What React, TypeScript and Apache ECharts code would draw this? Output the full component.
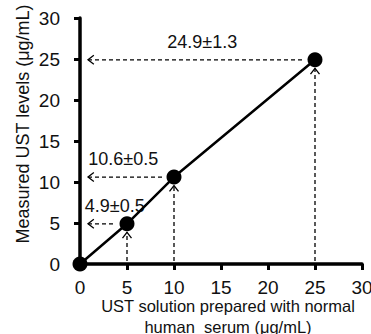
import React, { useEffect, useRef } from "react";
import * as echarts from "echarts";

// ---- data ----
const prepared: number[] = [0, 5, 10, 25];
const measured: number[] = [0, 4.9, 10.6, 24.9];
const pointLabels: string[] = ["", "4.9±0.5", "10.6±0.5", "24.9±1.3"];
const xTicks: number[] = [0, 5, 10, 15, 20, 25, 30];
const yTicks: number[] = [0, 5, 10, 15, 20, 25, 30];

// ---- layout (label centres in x data units) ----
const labelCenterX: number[] = [0, 3.7, 4.6, 13.0];
const FONT = "Liberation Sans, Arial, sans-serif";

export default function App() {
  const ref = useRef<HTMLDivElement>(null);
  useEffect(() => {
    if (!ref.current) return;
    const chart = echarts.init(ref.current, undefined, { renderer: "svg" });
    const pts = prepared.map((x, i) => [x, measured[i]]);
    const arrowData = prepared
      .map((x, i) => [x, measured[i], i])
      .filter((d) => d[0] !== 0);

    chart.setOption({
      animation: false,
      grid: { left: 80, right: 9, top: 18, bottom: 70, outerBoundsMode: "none", containLabel: false },
      xAxis: {
        type: "value",
        min: xTicks[0],
        max: xTicks[xTicks.length - 1],
        interval: 5,
        splitLine: { show: false },
        axisLine: { show: true, lineStyle: { color: "#000", width: 3.5 } },
        axisTick: { show: true, length: 6, lineStyle: { color: "#000", width: 3 } },
        axisLabel: { color: "#111", fontSize: 19, lineHeight: 16, fontFamily: FONT, margin: 15 },
        name: "UST solution prepared with normal\nhuman  serum (μg/mL)",
        nameLocation: "middle",
        nameGap: 31,
        nameMoveOverlap: false,
        nameTextStyle: {
          color: "#111",
          fontSize: 16.5,
          fontFamily: FONT,
          lineHeight: 21,
          verticalAlign: "top",
          padding: [0, 0, 0, 14],
        },
      },
      yAxis: {
        type: "value",
        min: yTicks[0],
        max: yTicks[yTicks.length - 1],
        interval: 5,
        splitLine: { show: false },
        axisLine: { show: true, lineStyle: { color: "#000", width: 3.5 } },
        axisTick: { show: true, length: 6, lineStyle: { color: "#000", width: 3 } },
        axisLabel: { color: "#111", fontSize: 19, fontFamily: FONT, margin: 20 },
        name: "Measured UST levels (μg/mL)",
        nameLocation: "middle",
        nameGap: 48,
        nameMoveOverlap: false,
        nameTextStyle: { color: "#111", fontSize: 18, fontFamily: FONT, padding: [0, 0, 0, 34] },
      },
      series: [
        {
          type: "line",
          data: pts,
          symbol: "circle",
          symbolSize: 15,
          lineStyle: { color: "#000", width: 2.5 },
          itemStyle: { color: "#000" },
          z: 5,
        },
        {
          type: "custom",
          data: arrowData,
          z: 3,
          renderItem: (params: any, api: any) => {
            const x = api.value(0);
            const y = api.value(1);
            const idx = api.value(2);
            const p = api.coord([x, y]);
            const axX = api.coord([0, y])[0] + 8;
            const axY = api.coord([x, 0])[1] - 3;
            const r = 7.5;
            const dash = { stroke: "#000", lineWidth: 1.3, lineDash: [4, 3], fill: "none" };
            const solid = { stroke: "#000", lineWidth: 1.3, fill: "none" };
            const a = 4.5;
            const tip = p[1] + r + 1;
            const lc = api.coord([labelCenterX[idx], y]);
            return {
              type: "group",
              children: [
                { type: "line", shape: { x1: axX, y1: p[1], x2: p[0] - r - 4, y2: p[1] }, style: dash },
                {
                  type: "polyline",
                  shape: { points: [[axX + a * 1.3, p[1] - a], [axX, p[1]], [axX + a * 1.3, p[1] + a]] },
                  style: solid,
                },
                { type: "line", shape: { x1: p[0], y1: axY, x2: p[0], y2: tip }, style: dash },
                {
                  type: "polyline",
                  shape: { points: [[p[0] - a, tip + a * 1.3], [p[0], tip], [p[0] + a, tip + a * 1.3]] },
                  style: solid,
                },
                {
                  type: "text",
                  x: lc[0],
                  y: p[1] - 18,
                  style: {
                    text: pointLabels[idx],
                    fill: "#111",
                    fontSize: 18,
                    fontFamily: FONT,
                    align: "center",
                    verticalAlign: "middle",
                  },
                },
              ],
            };
          },
        },
      ],
    });
    return () => chart.dispose();
  }, []);
  return <div ref={ref} style={{ width: 371, height: 334, position: "absolute", left: 0, top: 0 }} />;
}
